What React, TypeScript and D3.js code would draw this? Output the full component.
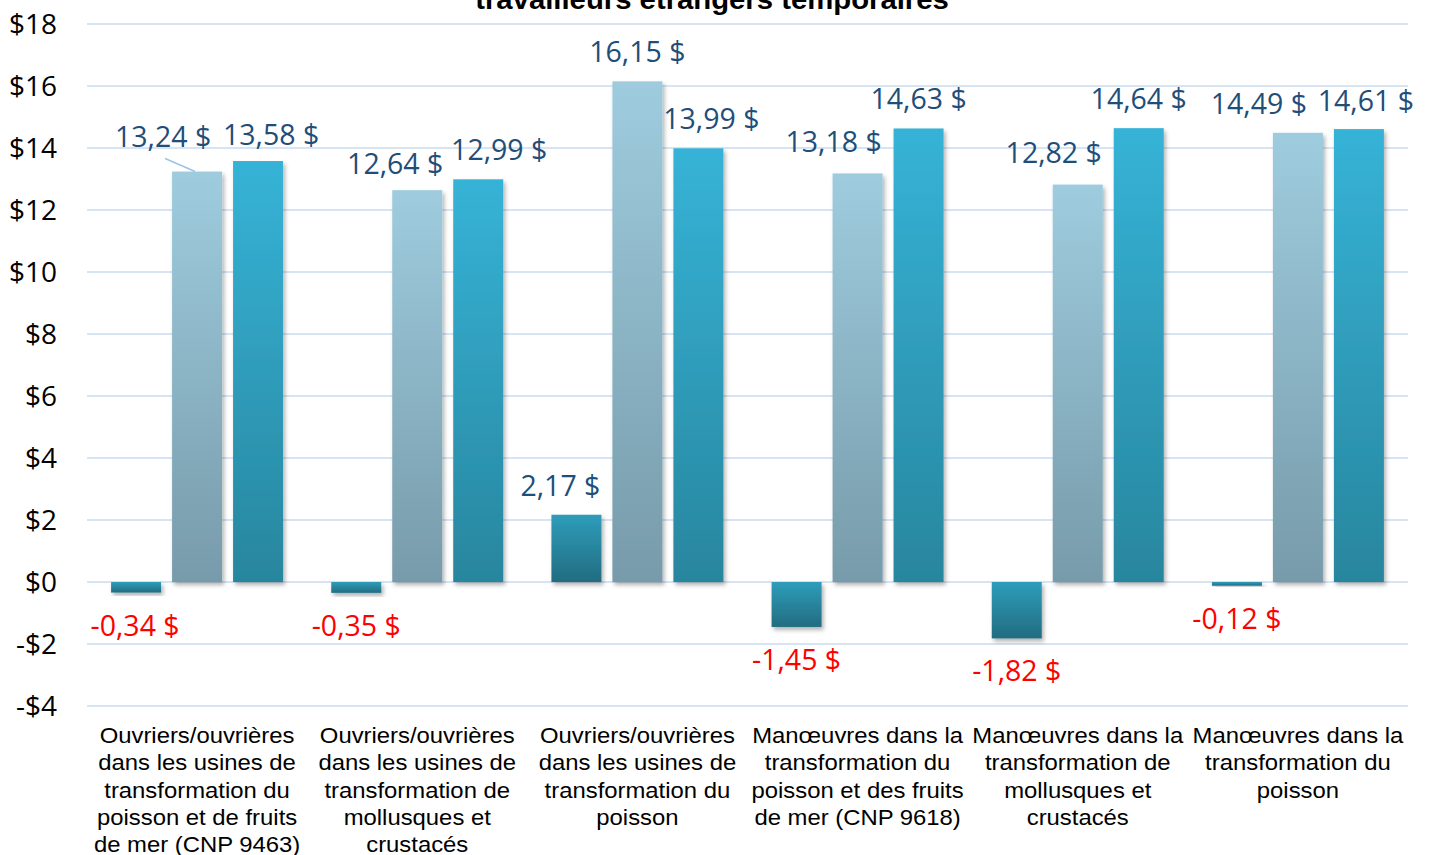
import React from "react";
import * as d3 from "d3";

const categories: string[][] = [
  ["Ouvriers/ouvrières", "dans les usines de", "transformation du", "poisson et de fruits", "de mer (CNP 9463)"],
  ["Ouvriers/ouvrières", "dans les usines de", "transformation de", "mollusques et", "crustacés"],
  ["Ouvriers/ouvrières", "dans les usines de", "transformation du", "poisson"],
  ["Manœuvres dans la", "transformation du", "poisson et des fruits", "de mer (CNP 9618)"],
  ["Manœuvres dans la", "transformation de", "mollusques et", "crustacés"],
  ["Manœuvres dans la", "transformation du", "poisson"],
];
const seriesKeys = ["ecart", "salaireA", "salaireB"];
const ecart = [-0.34, -0.35, 2.17, -1.45, -1.82, -0.12];
const salaireA = [13.24, 12.64, 16.15, 13.18, 12.82, 14.49];
const salaireB = [13.58, 12.99, 13.99, 14.63, 14.64, 14.61];
const yTicks = [-4, -2, 0, 2, 4, 6, 8, 10, 12, 14, 16, 18];
const titleLine = "travailleurs étrangers temporaires";

// label nudges (layout only), px relative to default placement
const labelDx = [
  [-1, 0, -16, 0, 0, 0],
  [-34, -22, 0, -24, -24, -39],
  [13, 21, 13, 0, 0, 7],
];
const labelDy = [
  [0, 0, 0, 0, 0, 0],
  [-6, 3, 0, -2, -3, 0],
  [3, 0, 0, 0, 0, 1],
];

const W = 1429;
const H = 855;
const plotLeft = 87;
const plotRight = 1408;
const yTop = 24;
const yBottom = 706;
const stretch = 1.085;

const fmt = (v: number) => (v < 0 ? "-" : "") + Math.abs(v).toFixed(2).replace(".", ",") + " $";

export default function App() {
  const values = [ecart, salaireA, salaireB];
  const y = d3.scaleLinear().domain([-4, 18]).range([yBottom, yTop]);
  const x0 = d3.scaleBand<number>().domain(d3.range(categories.length)).range([plotLeft, plotRight]).padding(0);
  const groupW = 172;
  const x1 = d3.scaleBand<string>().domain(seriesKeys).range([0, groupW]).paddingInner(0.18).paddingOuter(0);
  const groupOff = (x0.bandwidth() - groupW) / 2;
  const grads = ["g0", "g1", "g2"];
  const labelFont = "'Open Sans', sans-serif";
  const arial = "'Liberation Sans', Arial, sans-serif";

  return (
    <svg width={W} height={H} style={{ position: "fixed", left: 0, top: 0, background: "#fff" }}>
      <defs>
        <linearGradient id="g0" x1="0" y1="0" x2="0" y2="1">
          <stop offset="0%" stopColor="#2E9DBB" />
          <stop offset="100%" stopColor="#226C80" />
        </linearGradient>
        <linearGradient id="g1" x1="0" y1="0" x2="0" y2="1">
          <stop offset="0%" stopColor="#9ECCDE" />
          <stop offset="100%" stopColor="#779BAA" />
        </linearGradient>
        <linearGradient id="g2" x1="0" y1="0" x2="0" y2="1">
          <stop offset="0%" stopColor="#36B3D7" />
          <stop offset="100%" stopColor="#28869E" />
        </linearGradient>
        <filter id="sh" x="-20%" y="-20%" width="150%" height="150%">
          <feDropShadow dx="2" dy="3" stdDeviation="2" floodColor="#000" floodOpacity="0.3" />
        </filter>
      </defs>
      <rect x={0} y={0} width={W} height={H} fill="#fff" />
      <g transform={`translate(712,0) scale(${stretch},1)`}>
        <text x={0} y={9} textAnchor="middle" fontFamily={arial} fontWeight="bold" fontSize={27} fill="#000">
          {titleLine}
        </text>
      </g>
      {yTicks.map((t) => (
        <g key={t}>
          <line x1={plotLeft} x2={plotRight} y1={y(t)} y2={y(t)} stroke="#D6E4F4" strokeWidth={2} />
          <text x={57} y={y(t) + 10} textAnchor="end" fontFamily={labelFont} fontSize={28} fill="#000">
            {t < 0 ? "-$" + Math.abs(t) : "$" + t}
          </text>
        </g>
      ))}
      {values.map((vals, s) =>
        vals.map((v, i) => {
          const bx = (x0(i) as number) + groupOff + (x1(seriesKeys[s]) as number);
          const top = y(Math.max(0, v));
          const h = Math.abs(y(v) - y(0));
          return (
            <rect key={`b${s}-${i}`} x={bx} y={top} width={x1.bandwidth()} height={h} fill={`url(#${grads[s]})`} filter="url(#sh)" />
          );
        })
      )}
      {(() => {
        const bx = (x0(0) as number) + groupOff + (x1(seriesKeys[1]) as number) + x1.bandwidth() / 2;
        return (
          <line x1={bx + labelDx[1][0] + 2} y1={y(salaireA[0]) - 13} x2={bx - 2} y2={y(salaireA[0])} stroke="#9DC3E6" strokeWidth={1.5} />
        );
      })()}
      {values.map((vals, s) =>
        vals.map((v, i) => {
          const cx = (x0(i) as number) + groupOff + (x1(seriesKeys[s]) as number) + x1.bandwidth() / 2 + labelDx[s][i];
          const neg = v < 0;
          const cy = (neg ? y(v) + 33 : y(v) - 29) + labelDy[s][i];
          return (
            <text key={`l${s}-${i}`} x={cx} y={cy + 10} textAnchor="middle" fontFamily={labelFont} fontSize={28.5} fill={neg ? "#FF0000" : "#1F4E79"}>
              {fmt(v)}
            </text>
          );
        })
      )}
      {categories.map((lines, i) => (
        <g key={`c${i}`} transform={`translate(${(x0(i) as number) + x0.bandwidth() / 2},0) scale(${stretch},1)`}>
          <text textAnchor="middle" fontFamily={arial} fontSize={22} fill="#000">
            {lines.map((ln, k) => (
              <tspan key={k} x={0} y={743 + k * 27.3}>
                {ln}
              </tspan>
            ))}
          </text>
        </g>
      ))}
    </svg>
  );
}
